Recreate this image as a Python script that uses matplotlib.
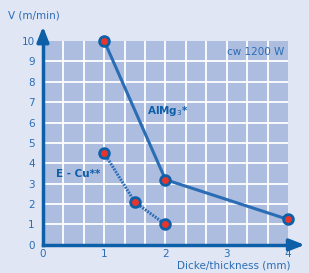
import matplotlib.pyplot as plt
import numpy as np

# data
almg_x = [1, 2, 4]
almg_v = [10, 3.2, 1.25]
ecu_x = [1, 1.5, 2]
ecu_v = [4.5, 2.1, 1.0]

x_ticks = [0, 1, 2, 3, 4]
y_ticks = list(range(0, 11))

blue = '#2a6db5'
dark = '#0d5fa8'
bg = '#e0e6f4'
face = '#adbde0'

fig = plt.figure(figsize=(3.09, 2.73), dpi=100, facecolor=bg)
ax = fig.add_axes([0.139, 0.103, 0.793, 0.747])
ax.set_facecolor(face)
ax.set_xlim(0, 4)
ax.set_ylim(0, 10)

# white grid: 1/3 mm steps horizontally, 1 m/min vertically
for gx in np.arange(1, 12) / 3:
    ax.axvline(gx, color='white', lw=1.3, zorder=1)
for gy in range(1, 10):
    ax.axhline(gy, color='white', lw=1.3, zorder=1)

ax.plot(almg_x, almg_v, color=blue, lw=2.2, zorder=3)
ax.plot(ecu_x, ecu_v, color=blue, lw=2.2, ls=(0, (0.6, 0.4)), zorder=3)
ax.plot(almg_x + ecu_x, almg_v + ecu_v, 'o', ms=7, mfc='#e8352b', mec=dark,
        mew=2, ls='none', zorder=4, clip_on=False)

for s in ['top', 'right']:
    ax.spines[s].set_visible(False)
for s in ['left', 'bottom']:
    ax.spines[s].set_color(dark)
    ax.spines[s].set_linewidth(2.5)

ax.set_xticks(x_ticks)
ax.set_yticks(y_ticks)
ax.tick_params(axis='y', length=0, colors=blue, labelsize=7.5, pad=6)
ax.tick_params(axis='x', length=0, colors=blue, labelsize=7.5, pad=3)

# axis arrows
ax.annotate('', xy=(1.08, 0), xytext=(0.99, 0), xycoords='axes fraction',
            arrowprops=dict(arrowstyle='-|>,head_length=0.9,head_width=0.35',
                            color=dark, lw=2.5))
ax.annotate('', xy=(0, 1.085), xytext=(0, 0.99), xycoords='axes fraction',
            arrowprops=dict(arrowstyle='-|>,head_length=0.9,head_width=0.35',
                            color=dark, lw=2.5))

fig.text(0.025, 0.945, 'V (m/min)', color=blue, fontsize=7.5, va='center')
fig.text(0.94, 0.026, 'Dicke/thickness (mm)', color=blue, fontsize=7.5,
         ha='right', va='center')
ax.text(3.94, 9.45, 'cw 1200 W', color=blue, fontsize=7.5, ha='right', va='center')
ax.text(2.03, 6.55, r'AlMg$_3$*', color=dark, fontsize=7.5, ha='center',
        va='center', fontweight='bold')
ax.text(0.57, 3.5, 'E - Cu**', color=dark, fontsize=7.5, ha='center',
        va='center', fontweight='bold')

fig.savefig('out.png', dpi=100, facecolor=bg)
